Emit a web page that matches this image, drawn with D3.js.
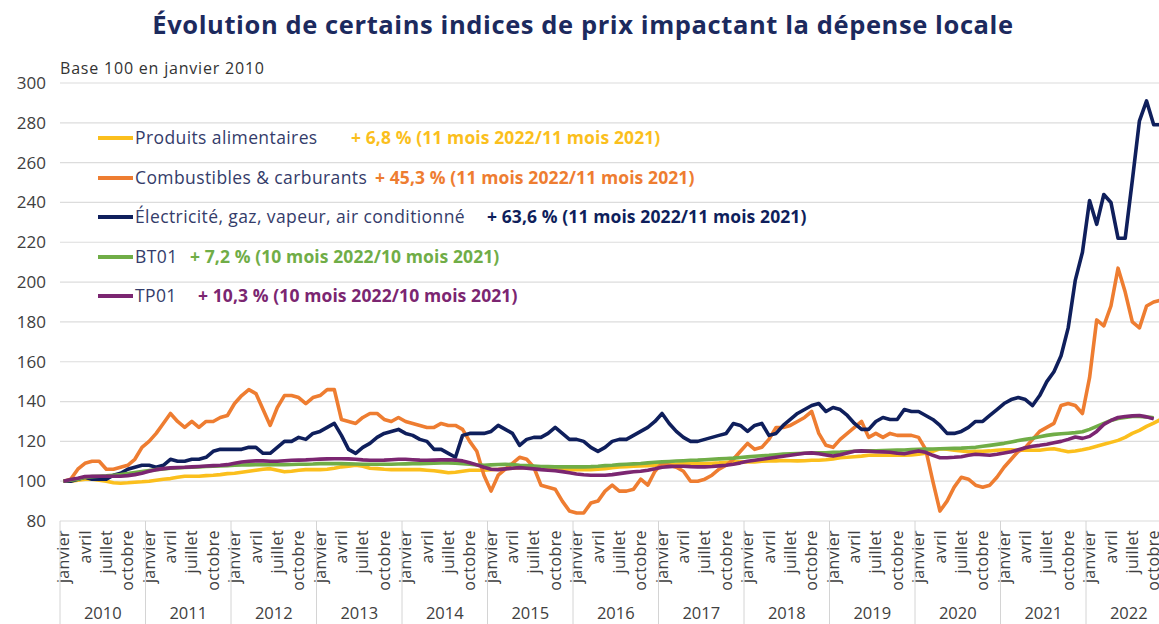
<!DOCTYPE html>
<html>
<head>
<meta charset="utf-8">
<script src="https://cdn.jsdelivr.net/npm/d3@7"></script>
<style>
  body { margin: 0; background: #fff; }
  svg { display: block; font-family: "Open Sans", sans-serif; }
</style>
</head>
<body>
<svg id="chart" width="1159" height="624"></svg>
<script>
// Indices mensuels, base 100 en janvier 2010 (janvier 2010 -> novembre 2022)
const years = [2010, 2011, 2012, 2013, 2014, 2015, 2016, 2017, 2018, 2019, 2020, 2021, 2022];
const monthLabels = ["janvier", "avril", "juillet", "octobre"];
const yTicks = [80, 100, 120, 140, 160, 180, 200, 220, 240, 260, 280, 300];

const alimentaires = [
	100, 100, 100.5, 101, 101, 100.5, 100, 99.2, 99, 99.2, 99.5, 99.7,
	100, 100.5, 101, 101.3, 102, 102.5, 102.5, 102.5, 102.8, 103, 103.3, 103.8,
	104, 104.5, 105, 105.5, 106, 106.3, 105.5, 104.7, 105, 105.5, 105.8, 105.8,
	105.8, 106, 106.5, 107.2, 107.5, 108, 107.5, 106.5, 106.3, 106, 105.8, 105.8,
	105.8, 105.8, 105.8, 105.5, 105.2, 104.8, 104.2, 104.5, 105, 105.5, 105.5, 105.5,
	105.8, 106, 106.3, 106.5, 106.8, 106.8, 106.8, 106.8, 106.5, 106.3, 106, 105.8,
	105.8, 105.8, 105.8, 106, 106.3, 106.8, 107.2, 107.3, 107.5, 107.7, 107.8, 108,
	108.2, 108.5, 108.6, 108.8, 108.8, 108.8, 108.8, 109, 109.2, 109.5, 109.7, 109.7,
	109.7, 109.7, 110, 110.2, 110.2, 110.4, 110.3, 110.2, 110.3, 110.5, 110.5, 110.8,
	111.2, 111.8, 112, 112.3, 112.6, 113, 113, 113, 113, 113, 113, 113.2,
	113.5, 114, 115, 116.3, 116, 115.5, 115.2, 114.8, 115, 115, 115.2, 115.5,
	115.8, 115.8, 115.5, 115.5, 115.5, 115.5, 116, 116.3, 115.5, 114.8, 115.2, 115.8,
	116.5, 117.5, 118.5, 119.5, 120.5, 122, 124, 125.5, 127.5, 129.2, 131
];
const combustibles = [
	100, 101, 106, 109, 110, 110, 106, 106, 107, 108, 111, 117,
	120, 124, 129, 134, 130, 127, 130, 127, 130, 130, 132, 133,
	139, 143, 146, 144, 136, 128, 137, 143, 143, 142, 139, 142,
	143, 146, 146, 131, 130, 129, 132, 134, 134, 131, 130, 132,
	130, 129, 128, 127, 127, 129, 128, 128, 126, 120, 115, 103,
	95, 103, 106, 109, 112, 111, 107, 98, 97, 96, 90, 85,
	84, 84, 89, 90, 95, 98, 95, 95, 96, 101, 98, 105,
	109, 108, 107, 105, 100, 100, 101, 103, 106, 108, 111, 115,
	119, 116, 117, 121, 127, 127, 128, 130, 132, 135, 124, 118,
	117, 121, 124, 127, 130, 122, 124, 122, 124, 123, 123, 123,
	122, 116, 100, 85, 90, 97, 102, 101, 98, 97, 98, 102,
	107, 111, 115, 117, 121, 125, 127, 129, 138, 139, 138, 134,
	152, 181, 178, 188, 207, 195, 180, 177, 188, 190, 191
];
const electricite = [
	100, 100, 101, 102, 101, 101, 101, 103, 104, 106, 107, 108,
	108, 107, 108, 111, 110, 110, 111, 111, 112, 115, 116, 116,
	116, 116, 117, 117, 114, 114, 117, 120, 120, 122, 121, 124,
	125, 127, 129, 123, 116, 114, 117, 119, 122, 124, 125, 126,
	124, 123, 121, 120, 116, 116, 114, 112, 123, 124, 124, 124,
	125, 128, 126, 124, 118, 121, 122, 122, 124, 127, 124, 121,
	121, 120, 117, 115, 117, 120, 121, 121, 123, 125, 127, 130,
	134, 129, 125, 122, 120, 120, 121, 122, 123, 124, 129, 128,
	125, 128, 129, 123, 124, 128, 131, 134, 136, 138, 139, 135,
	137, 136, 133, 129, 126, 126, 130, 132, 131, 131, 136, 135,
	135, 133, 131, 128, 124, 124, 125, 127, 130, 130, 133, 136,
	139, 141, 142, 141, 138, 143, 150, 155, 163, 177, 201, 215,
	241, 229, 244, 240, 222, 222, 251, 281, 291, 279, 279
];
const bt01 = [
	100, 100.5, 101, 102, 102.3, 102.5, 102.7, 103, 103.3, 103.8, 104.3, 104.8,
	105.3, 105.8, 106.2, 106.5, 106.7, 106.9, 107, 107.2, 107.4, 107.5, 107.6, 107.8,
	108, 108.1, 108.2, 108.3, 108.3, 108.3, 108.3, 108.3, 108.4, 108.5, 108.5, 108.6,
	108.8, 108.8, 108.8, 108.8, 108.7, 108.6, 108.5, 108.5, 108.5, 108.5, 108.5, 108.6,
	108.7, 108.8, 108.8, 108.9, 109, 109.1, 109.2, 109, 108.8, 108.5, 108.2, 108,
	108.2, 108.4, 108.5, 108.3, 108, 107.8, 107.6, 107.4, 107.3, 107.2, 107.2, 107.2,
	107.2, 107.2, 107.3, 107.5, 107.8, 108, 108.3, 108.5, 108.7, 108.9, 109.2, 109.5,
	109.7, 109.9, 110.1, 110.3, 110.5, 110.6, 110.8, 111, 111.2, 111.4, 111.6, 111.9,
	112.2, 112.5, 112.8, 113, 113.3, 113.6, 113.8, 113.9, 114, 114.1, 114.2, 114.3,
	114.5, 114.6, 114.8, 115, 115.1, 115.2, 115.3, 115.4, 115.5, 115.6, 115.7, 115.9,
	116, 116.1, 116.2, 116.3, 116.4, 116.5, 116.6, 116.8, 117, 117.5, 118, 118.5,
	119, 119.7, 120.4, 121, 121.6, 122.3, 123, 123.5, 123.8, 124.1, 124.4, 124.8,
	126, 127.5, 129, 130.5, 131.5, 132, 132.5, 132.5, 132.3, 131.8
];
const tp01 = [
	100, 100.8, 101.5, 102.3, 102.5, 102.5, 102.5, 102.5, 102.5, 102.8, 103.3, 104,
	105, 105.8, 106.3, 106.7, 106.9, 107, 107.2, 107.4, 107.6, 107.8, 108, 108.3,
	109, 109.6, 110, 110.2, 110.2, 110, 110, 110.3, 110.5, 110.6, 110.7, 110.9,
	111.1, 111.2, 111.3, 111.3, 111.2, 111, 110.7, 110.5, 110.5, 110.6, 110.8, 111,
	111, 110.8, 110.6, 110.5, 110.6, 110.7, 110.8, 110.6, 110.2, 109.3, 108.2, 107,
	106, 105.8, 106.2, 106.5, 106.8, 106.5, 106.2, 105.8, 105.5, 105.2, 104.8, 104.2,
	103.6, 103.2, 103, 103, 103, 103.3, 103.8, 104.3, 104.7, 105, 105.5, 106.2,
	107, 107.3, 107.5, 107.5, 107.3, 107.2, 107.2, 107.4, 107.7, 108, 108.5, 109.2,
	110, 110.5, 111, 111.5, 112, 112.5, 113, 113.5, 114, 114.2, 113.8, 113.2,
	112.6, 113.3, 114.2, 115, 115.2, 115, 114.8, 114.7, 114.5, 114, 113.8, 114.5,
	115.2, 114.5, 113, 111.8, 111.8, 112, 112.3, 113, 113.5, 113.3, 113, 113.5,
	114.2, 114.8, 115.8, 116.8, 117.5, 118, 118.6, 119.3, 120, 121, 122.2, 121.5,
	122.5, 125, 128.5, 130.5, 132, 132.5, 132.8, 133, 132.3, 131.3
];

const seriesNames = ["Produits alimentaires", "Combustibles & carburants", "Électricité, gaz, vapeur, air conditionné", "BT01", "TP01"];
const seriesNotes = [
	"+ 6,8 % (11 mois 2022/11 mois 2021)",
	"+ 45,3 % (11 mois 2022/11 mois 2021)",
	"+ 63,6 % (11 mois 2022/11 mois 2021)",
	"+ 7,2 % (10 mois 2022/10 mois 2021)",
	"+ 10,3 % (10 mois 2022/10 mois 2021)"
];
const seriesValues = [alimentaires, combustibles, electricite, bt01, tp01];
const seriesColors = ["#fbbf1d", "#ee7d31", "#0f1f5c", "#70ad47", "#7b2671"];

const svg = d3.select("#chart");
const width = 1159;
const margin = { top: 83, left: 60, bottom: 521 };

// 12 months per year, the last year is cut after november
const nMonths = years.length * 12 - 1;
const monthIdx = d3.range(nMonths);

const x = d3.scaleBand()
	.domain(monthIdx)
	.range([margin.left, margin.left + nMonths * 7.125]);
const y = d3.scaleLinear()
	.domain([80, 300])
	.range([margin.bottom, margin.top]);
const cx = (i) => x(i) + x.bandwidth() / 2;

// Title
svg.append("text")
	.attr("x", 583)
	.attr("y", 34)
	.attr("text-anchor", "middle")
	.attr("font-size", 25.5)
	.attr("font-weight", 700)
	.attr("letter-spacing", 0.6)
	.attr("fill", "#1c2a5e")
	.text("Évolution de certains indices de prix impactant la dépense locale");

svg.append("text")
	.attr("x", 60)
	.attr("y", 74)
	.attr("font-size", 16)
	.attr("letter-spacing", 0.8)
	.attr("fill", "#333")
	.text("Base 100 en janvier 2010");

// Gridlines
svg.append("g")
	.selectAll("line")
	.data(yTicks)
	.join("line")
	.attr("x1", margin.left)
	.attr("x2", width)
	.attr("y1", (d) => y(d))
	.attr("y2", (d) => y(d))
	.attr("stroke", "#dcdcdc")
	.attr("stroke-width", 1.2);

// Y axis
const yAxis = svg.append("g")
	.attr("transform", `translate(${margin.left},0)`)
	.call(d3.axisLeft(y).tickValues(yTicks).tickSize(0).tickPadding(14));
yAxis.select(".domain").remove();
yAxis.selectAll("text")
	.attr("font-family", "Open Sans, sans-serif")
	.attr("font-size", 17)
	.attr("fill", "#404040");

// X axis: month labels
const xAxis = svg.append("g")
	.attr("transform", `translate(0,${margin.bottom})`)
	.call(d3.axisBottom(x)
		.tickValues(monthIdx.filter((i) => i % 3 === 0))
		.tickSize(0)
		.tickFormat((i) => monthLabels[(i % 12) / 3]));
xAxis.select(".domain").remove();
xAxis.selectAll("text")
	.attr("font-family", "Open Sans, sans-serif")
	.attr("font-size", 16)
	.attr("letter-spacing", 0.4)
	.attr("fill", "#404040")
	.attr("text-anchor", "end")
	.attr("transform", "rotate(-90)")
	.attr("x", -9)
	.attr("y", 0)
	.attr("dy", "0.35em");

// Year separators and labels
svg.append("g")
	.selectAll("line")
	.data(years)
	.join("line")
	.attr("x1", (d, k) => x(k * 12))
	.attr("x2", (d, k) => x(k * 12))
	.attr("y1", margin.bottom)
	.attr("y2", 624)
	.attr("stroke", "#d4d4d4")
	.attr("stroke-width", 1);

svg.append("g")
	.selectAll("text")
	.data(years)
	.join("text")
	.attr("x", (d, k) => x(k * 12) + x.step() * 6)
	.attr("y", 619)
	.attr("text-anchor", "middle")
	.attr("font-size", 16.5)
	.attr("fill", "#404040")
	.text((d) => d);

// Series lines
const line = d3.line()
	.x((d, i) => cx(i))
	.y((d) => y(d));

svg.append("g")
	.selectAll("path")
	.data(seriesValues)
	.join("path")
	.attr("fill", "none")
	.attr("stroke", (d, k) => seriesColors[k])
	.attr("stroke-width", 3.6)
	.attr("stroke-linejoin", "round")
	.attr("d", line);

// Legend
const legendRows = [138, 178, 217, 257, 296];
const noteX = [351, 375, 487, 190, 198];
const legend = svg.append("g")
	.selectAll("g")
	.data(seriesNames)
	.join("g")
	.attr("transform", (d, k) => `translate(0,${legendRows[k]})`);

legend.append("line")
	.attr("x1", 98)
	.attr("x2", 133)
	.attr("stroke", (d, k) => seriesColors[k])
	.attr("stroke-width", 4);

legend.append("text")
	.attr("x", 135)
	.attr("dy", "0.35em")
	.attr("font-size", 17.5)
	.attr("letter-spacing", 0.4)
	.attr("fill", "#343c6a")
	.text((d) => d);

legend.append("text")
	.attr("x", (d, k) => noteX[k])
	.attr("dy", "0.35em")
	.attr("font-size", 17.5)
	.attr("font-weight", 700)
	.attr("letter-spacing", 0.1)
	.attr("fill", (d, k) => seriesColors[k])
	.text((d, k) => seriesNotes[k]);
</script>
</body>
</html>
